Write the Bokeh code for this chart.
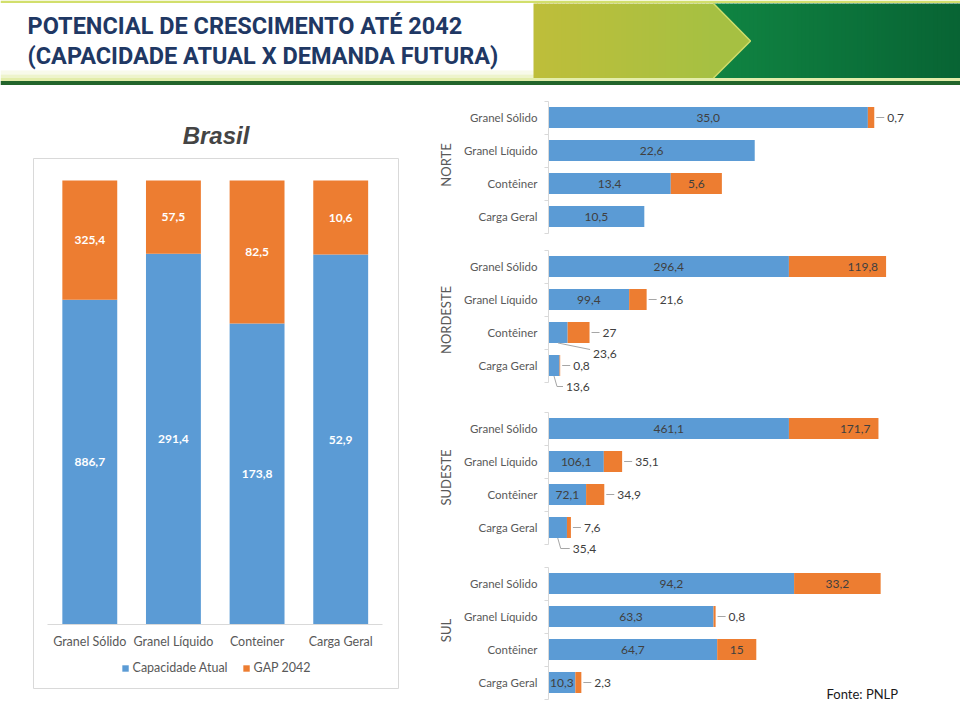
from bokeh.plotting import figure
from bokeh.layouts import column, row
from bokeh.models import Range1d, FixedTicker, Legend, LegendItem, Label, ColumnDataSource
from bokeh.core.properties import value
from bokeh.embed import file_html
from bokeh.resources import INLINE

# ---------------- data ----------------
title_lines = ["POTENCIAL DE CRESCIMENTO ATÉ 2042", "(CAPACIDADE ATUAL X DEMANDA FUTURA)"]

br_title = "Brasil"
br_categories = ["Granel Sólido", "Granel Líquido", "Conteiner", "Carga Geral"]
br_capacidade = [886.7, 291.4, 173.8, 52.9]
br_gap = [325.4, 57.5, 82.5, 10.6]
series_names = ["Capacidade Atual", "GAP 2042"]

reg_categories = ["Granel Sólido", "Granel Líquido", "Contêiner", "Carga Geral"]
regions = ["NORTE", "NORDESTE", "SUDESTE", "SUL"]
norte_cap = [35.0, 22.6, 13.4, 10.5]
norte_gap = [0.7, 0, 5.6, 0]
nordeste_cap = [296.4, 99.4, 23.6, 13.6]
nordeste_gap = [119.8, 21.6, 27, 0.8]
sudeste_cap = [461.1, 106.1, 72.1, 35.4]
sudeste_gap = [171.7, 35.1, 34.9, 7.6]
sul_cap = [94.2, 63.3, 64.7, 10.3]
sul_gap = [33.2, 0.8, 15, 2.3]
axis_max = [40, 450, 700, 140]
source_note = "Fonte: PNLP"

# ---------------- styles ----------------
BLUE = "#5b9bd5"
ORANGE = "#ed7d31"
FONT = "Lato"
GRAY_TXT = "#595959"
LBL_TXT = "#404040"
LEAD = "#a6a6a6"
AXIS_GRAY = "#d9d9d9"

# label placement per panel (blue, orange)
blue_modes = [["in", "in", "in", "in"],
              ["in", "in", "below", "below"],
              ["in", "in", "in", "below"],
              ["in", "in", "in", "in"]]
orange_modes = [["right", None, "in", None],
                ["end", "right", "right", "right"],
                ["end", "right", "right", "right"],
                ["in", "right", "in", "right"]]
below_dx = [[0, 0, 0, 0], [0, 0, 32, 9], [0, 0, 0, 12], [0, 0, 0, 0]]


def fmt(v):
    return str(v) if isinstance(v, int) else f"{v:.1f}".replace(".", ",")


def no_grid(p):
    p.xgrid.visible = False
    p.ygrid.visible = False


def hexc(c):
    return "#%02x%02x%02x" % tuple(int(round(v)) for v in c)


def lerp(c0, c1, t):
    return tuple(a + (b - a) * t for a, b in zip(c0, c1))


# ---------------- header ----------------
hdr = figure(width=960, height=88, x_range=Range1d(0, 960), y_range=Range1d(88, 0),
             toolbar_location=None, output_backend="svg", min_border=0,
             x_axis_location=None, y_axis_location=None, outline_line_color=None)
no_grid(hdr)
# pale band under banner
hdr.quad(left=[0, 0, 0], right=[960, 960, 960], top=[70, 74, 77.5], bottom=[74, 77.5, 80.5],
         color=["#f8faea", "#eef4cc", "#e3edaa"], line_color=None)
# top thin line
hdr.quad(left=0, right=960, top=0, bottom=2.5, color="#d2df6c", line_color=None)
# green part with gradient
gl = list(range(713, 960, 4))
g0, g1 = (16, 132, 66), (8, 100, 52)
hdr.quad(left=gl, right=[v + 4.5 for v in gl], top=3, bottom=77.5,
         color=[hexc(lerp(g0, g1, i / (len(gl) - 1))) for i in range(len(gl))], line_color=None)
# yellow part with gradient
yl = list(range(533, 713, 4))
y0, y1 = (190, 190, 58), (166, 192, 66)
hdr.quad(left=yl, right=[v + 4.5 for v in yl], top=3, bottom=77.5,
         color=[hexc(lerp(y0, y1, i / (len(yl) - 1))) for i in range(len(yl))], line_color=None)
hdr.patch([713, 750, 713], [3, 40.5, 77.5], color=hexc(y1), line_color=None)
hdr.line([713, 750, 713], [3, 40.5, 77.5], color="#cfdd6a", line_width=1.5)
# dark green rule
hdr.quad(left=0, right=960, top=80.5, bottom=84.5, color="#23652b", line_color=None)
hsrc = ColumnDataSource(dict(x=[27, 27], y=[25, 55], t=title_lines))
hdr.text(x="x", y="y", text="t", source=hsrc, text_font=value("Roboto"), text_font_style="bold",
         text_font_size="23.5px", text_color="#1f3864", text_baseline="middle", text_align="left")

# ---------------- left chart (Brasil) ----------------
UNIT_Y = 444.0   # px for 100%
STEP_X = 83.8    # px between bars
left = figure(width=420, height=616, toolbar_location=None, output_backend="svg",
              x_range=Range1d(-0.5 - 14.5 / STEP_X, 3.5 + 16.0 / STEP_X),
              y_range=Range1d(-64 / UNIT_Y, 1 + 22 / UNIT_Y),
              min_border_left=33, min_border_right=22, min_border_top=70, min_border_bottom=16,
              y_axis_location=None)
no_grid(left)
left.outline_line_color = AXIS_GRAY
left.outline_line_width = 1
left.title.text = br_title
left.title.align = "center"
left.title.text_font = "Liberation Sans"
left.title.text_font_style = "bold italic"
left.title.text_font_size = "24px"
left.title.standoff = 19

tot = [c + g for c, g in zip(br_capacidade, br_gap)]
cap_pct = [c / t for c, t in zip(br_capacidade, tot)]
bx = list(range(len(br_categories)))
bsrc = ColumnDataSource(dict(x=bx, cp=cap_pct, one=[1.0] * 4,
                             cmid=[v / 2 for v in cap_pct], gmid=[(1 + v) / 2 for v in cap_pct],
                             ct=[fmt(v) for v in br_capacidade], gt=[fmt(v) for v in br_gap]))
r1 = left.vbar(x="x", bottom=0, top="cp", width=55 / STEP_X, source=bsrc, fill_color=BLUE, line_color=None)
r2 = left.vbar(x="x", bottom="cp", top="one", width=55 / STEP_X, source=bsrc, fill_color=ORANGE, line_color=None)
for ycol, tcol in (("cmid", "ct"), ("gmid", "gt")):
    left.text(x="x", y=ycol, text=tcol, source=bsrc, text_font=value(FONT), text_font_style="bold",
              text_font_size="12px", text_color="white", text_align="center", text_baseline="middle")

ax = left.xaxis[0]
ax.fixed_location = 0
ax.bounds = (-0.5, 3.5)
ax.ticker = FixedTicker(ticks=bx)
ax.major_label_overrides = {i: c for i, c in enumerate(br_categories)}
ax.axis_line_color = AXIS_GRAY
ax.major_tick_line_color = None
ax.minor_tick_line_color = None
ax.major_label_standoff = 3
ax.major_label_text_font = FONT
ax.major_label_text_font_size = "12.5px"
ax.major_label_text_color = GRAY_TXT

leg = Legend(items=[LegendItem(label=series_names[0], renderers=[r1]),
                    LegendItem(label=series_names[1], renderers=[r2])],
             orientation="horizontal", location="bottom_center",
             label_text_font=FONT, label_text_font_size="12.5px", label_text_color=GRAY_TXT,
             glyph_width=8, glyph_height=8, label_height=14, label_standoff=4, spacing=14,
             padding=4, margin=13, border_line_color=None, background_fill_alpha=0)
left.add_layout(leg)

# ---------------- right panels ----------------
ROW = 33.0
FRAME_W = 365.0
panel_px = [(88, 241, 117), (241, 398, 266), (398, 556, 428), (556, 704, 583)]
caps = [norte_cap, nordeste_cap, sudeste_cap, sul_cap]
gaps = [norte_gap, nordeste_gap, sudeste_gap, sul_gap]
ys = list(range(len(reg_categories)))
panels = []
for k, region in enumerate(regions):
    top, bot, c0 = panel_px[k]
    ppu = FRAME_W / axis_max[k]
    p = figure(width=540, height=bot - top, toolbar_location=None, output_backend="svg",
               x_range=Range1d(0, axis_max[k]),
               y_range=Range1d((bot - c0) / ROW, (top - c0) / ROW),
               min_border_left=128, min_border_right=47, min_border_top=0, min_border_bottom=0,
               x_axis_location=None, outline_line_color=None)
    no_grid(p)
    cap, gap = caps[k], gaps[k]
    end = [c + g for c, g in zip(cap, gap)]
    src = ColumnDataSource(dict(y=ys, cap=cap, end=end))
    p.hbar(y="y", left=0, right="cap", height=21 / ROW, source=src, fill_color=BLUE, line_color=None)
    p.hbar(y="y", left="cap", right="end", height=21 / ROW, source=src, fill_color=ORANGE, line_color=None)

    tx, ty, tt, ta, txo = [], [], [], [], []
    lx, ly = [], []
    for i in ys:
        bm = blue_modes[k][i]
        cmid = cap[i] / 2
        if bm == "in":
            tx.append(cmid); ty.append(i); tt.append(fmt(cap[i])); ta.append("center"); txo.append(0)
        elif bm == "below":
            dx = below_dx[k][i]
            yy = i + 21 / ROW
            tleft = cmid + (dx + 3) / ppu
            if dx > 20:
                lx.append([cmid, tleft - 3 / ppu]); ly.append([i + 10.5 / ROW, yy - 4 / ROW])
            else:
                lx.append([cmid, cmid + 3 / ppu, tleft - 3 / ppu]); ly.append([i + 10.5 / ROW, yy, yy])
            tx.append(tleft); ty.append(yy); tt.append(fmt(cap[i])); ta.append("left"); txo.append(0)
        om = orange_modes[k][i]
        if om is None or gap[i] == 0:
            continue
        if om == "in":
            tx.append(cap[i] + gap[i] / 2); ty.append(i); tt.append(fmt(gap[i])); ta.append("center"); txo.append(0)
        elif om == "end":
            tx.append(end[i]); ty.append(i); tt.append(fmt(gap[i])); ta.append("right"); txo.append(-8)
        elif om == "right":
            lx.append([end[i] + 2 / ppu, end[i] + 10 / ppu]); ly.append([i, i])
            tx.append(end[i]); ty.append(i); tt.append(fmt(gap[i])); ta.append("left"); txo.append(13)
    if lx:
        p.multi_line(xs=lx, ys=ly, line_color=LEAD, line_width=1)
    tsrc = ColumnDataSource(dict(x=tx, y=ty, t=tt, a=ta, o=txo))
    p.text(x="x", y="y", text="t", text_align="a", x_offset="o", source=tsrc,
           text_font=value(FONT), text_font_size="12px", text_color=LBL_TXT, text_baseline="middle")

    yax = p.yaxis[0]
    yax.ticker = FixedTicker(ticks=ys, minor_ticks=[v - 0.5 for v in ys] + [ys[-1] + 0.5])
    yax.bounds = (-0.5, ys[-1] + 0.5)
    yax.major_label_overrides = {i: c for i, c in enumerate(reg_categories)}
    yax.axis_line_color = AXIS_GRAY
    yax.major_tick_line_color = None
    yax.minor_tick_line_color = AXIS_GRAY
    yax.minor_tick_in = 0
    yax.minor_tick_out = 4
    yax.major_label_standoff = 5
    yax.major_label_text_font = FONT
    yax.major_label_text_font_size = "11.5px"
    yax.major_label_text_color = GRAY_TXT
    yax.axis_label = region
    yax.axis_label_text_font = FONT
    yax.axis_label_text_font_style = "normal"
    yax.axis_label_text_font_size = "13px"
    yax.axis_label_text_color = GRAY_TXT
    yax.axis_label_standoff = 7
    panels.append(p)

sul = panels[-1]
sul.add_layout(Label(x=(826 - 548) / (FRAME_W / axis_max[-1]), y=(693 - 583) / ROW, text=source_note,
                     text_font=FONT, text_font_size="13px", text_color="#1a1a1a",
                     text_baseline="middle", text_align="left"))

layout = column(hdr, row(left, column(*panels, spacing=0), spacing=0), spacing=0)
open("out.html", "w").write(file_html(layout, INLINE))
